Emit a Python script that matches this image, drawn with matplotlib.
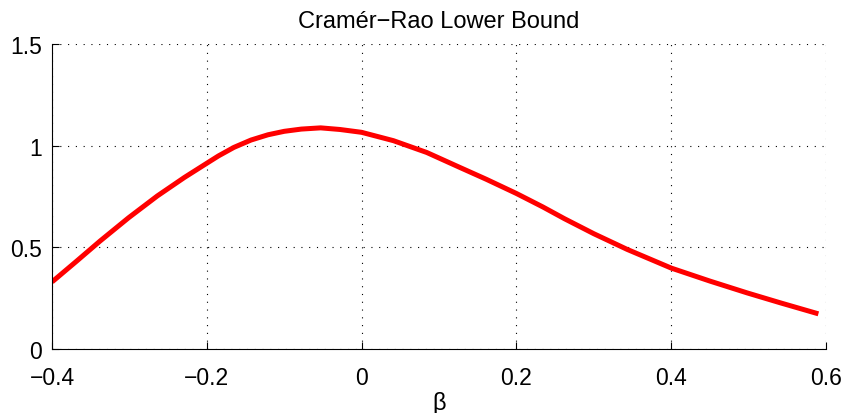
import numpy as np
import matplotlib
matplotlib.use("Agg")
import matplotlib.pyplot as plt

# values
beta = [-0.400, -0.368, -0.338, -0.301, -0.264, -0.229, -0.200, -0.185, -0.165,
        -0.143, -0.121, -0.100, -0.078, -0.053, -0.028, 0.000, 0.041, 0.084,
        0.127, 0.161, 0.200, 0.234, 0.262, 0.300, 0.343, 0.400, 0.450, 0.498,
        0.541, 0.590]
crlb = [0.330, 0.433, 0.531, 0.646, 0.753, 0.844, 0.914, 0.950, 0.992,
        1.028, 1.054, 1.071, 1.082, 1.088, 1.080, 1.066, 1.025, 0.967,
        0.893, 0.835, 0.765, 0.699, 0.641, 0.567, 0.490, 0.398, 0.334, 0.276,
        0.227, 0.173]

xticks = [-0.4, -0.2, 0, 0.2, 0.4, 0.6]
xticklabels = ["\u22120.4", "\u22120.2", "0", "0.2", "0.4", "0.6"]
yticks = [0, 0.5, 1, 1.5]
yticklabels = ["0", "0.5", "1", "1.5"]

plt.rcParams['font.family'] = ['Liberation Sans', 'DejaVu Sans']

fig = plt.figure(figsize=(8.46, 4.14), dpi=100)
ax = fig.add_axes([0.0615, 0.1546, 0.915, 0.7364])

ax.plot(beta, crlb, color='#ff0000', linewidth=3.6,
        solid_capstyle='butt', solid_joinstyle='round')

ax.set_xlim(-0.4, 0.6)
ax.set_ylim(0, 1.5)
ax.set_xticks(xticks)
ax.set_xticklabels(xticklabels)
ax.set_yticks(yticks)
ax.set_yticklabels(yticklabels)
ax.tick_params(direction='in', length=5, width=0.8, labelsize=16.5)
ax.tick_params(axis='x', pad=12)
ax.tick_params(axis='y', pad=7)

ax.grid(True, color='black', linestyle=(0, (1, 6)), linewidth=0.8)
ax.spines['top'].set_visible(False)
ax.spines['right'].set_visible(False)

ax.set_title("Cram\u00e9r\u2212Rao Lower Bound", fontsize=17, pad=12)
ax.set_xlabel("\u03b2", fontsize=17, labelpad=2)

fig.savefig("out.png", dpi=100)
